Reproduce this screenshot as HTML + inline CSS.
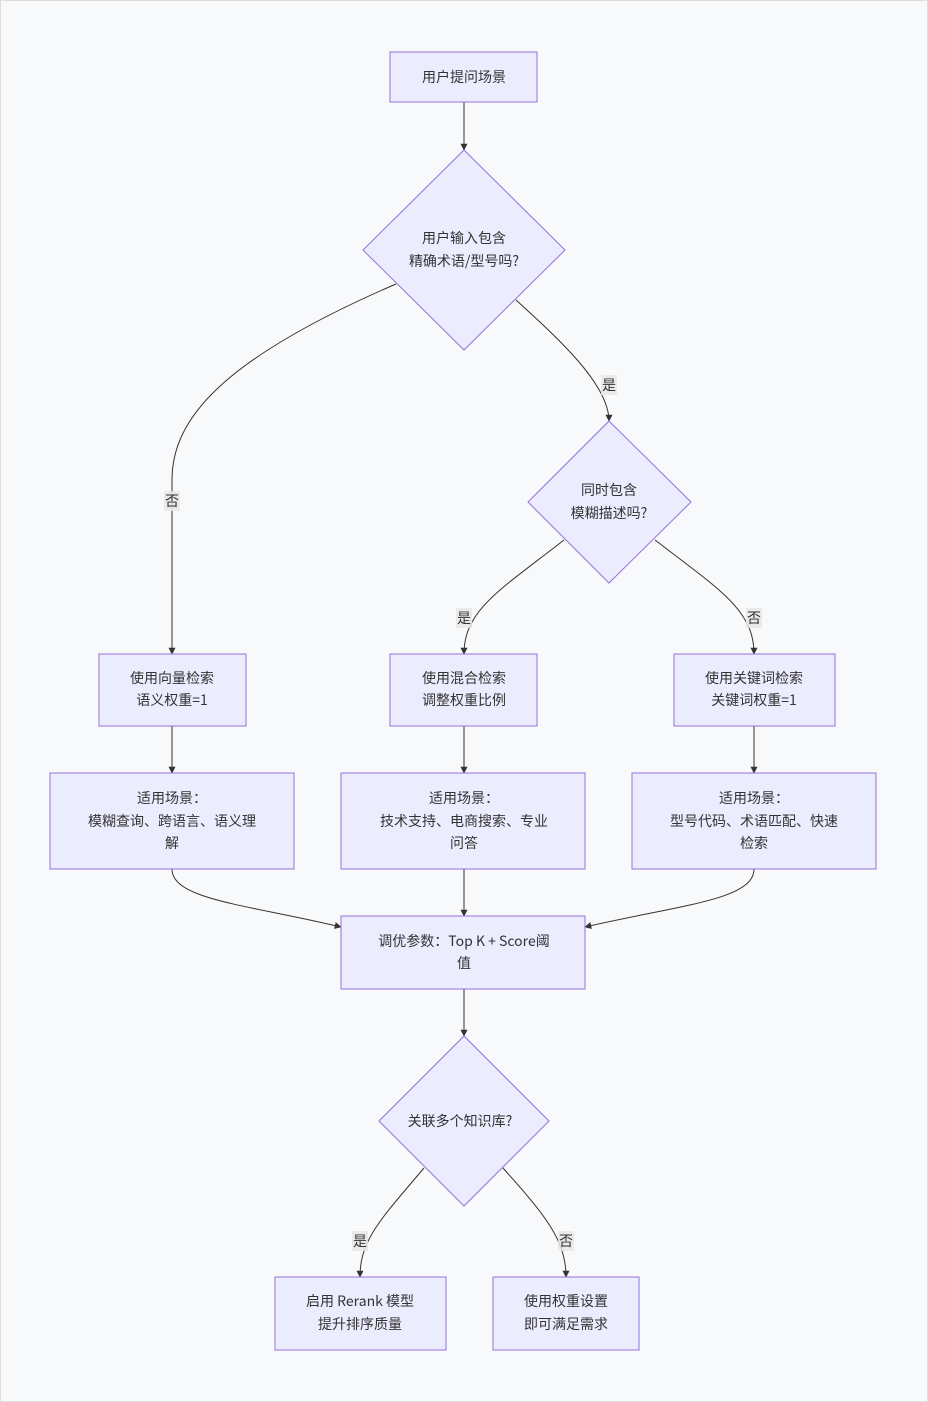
<!DOCTYPE html>
<html><head><meta charset="utf-8"><style>
html,body{margin:0;padding:0;background:#f8f9fb;}
svg{display:block;}
text{font-family:"Noto Sans CJK SC","Liberation Sans",sans-serif;font-size:14px;fill:#333;text-anchor:middle;}
.n{fill:#ECECFF;stroke:#9370DB;stroke-width:1;}
.e{fill:none;stroke:#333;stroke-width:1;}
.lb{fill:rgba(232,232,232,0.85);}
</style></head><body>
<svg width="928" height="1402" viewBox="0 0 928 1402">
<defs><marker id="a" viewBox="0 0 10 10" refX="9" refY="5" markerWidth="7" markerHeight="7" orient="auto"><path d="M0,0L10,5L0,10z" fill="#333"/></marker></defs>
<rect x="0.5" y="0.5" width="927" height="1401" fill="#f8f9fb" stroke="#ddd"/>
<path class="e" marker-end="url(#a)" d="M464,102 L464,150"/>
<path class="e" marker-end="url(#a)" d="M396,284 C220,360 172,420 172,480 L172,654"/>
<path class="e" marker-end="url(#a)" d="M516,300 C560,340 609,385 609,421"/>
<path class="e" marker-end="url(#a)" d="M564,540 C500,590 464,610 464,654"/>
<path class="e" marker-end="url(#a)" d="M655,540 C720,590 754,610 754,654"/>
<path class="e" marker-end="url(#a)" d="M172,726 L172,773"/>
<path class="e" marker-end="url(#a)" d="M464,726 L464,773"/>
<path class="e" marker-end="url(#a)" d="M754,726 L754,773"/>
<path class="e" marker-end="url(#a)" d="M172,869 C172,900 250,905 341,927"/>
<path class="e" marker-end="url(#a)" d="M464,869 L464,916"/>
<path class="e" marker-end="url(#a)" d="M754,869 C754,900 680,905 585,927"/>
<path class="e" marker-end="url(#a)" d="M464,989 L464,1036"/>
<path class="e" marker-end="url(#a)" d="M424,1168 C380,1220 360,1240 360,1277"/>
<path class="e" marker-end="url(#a)" d="M503,1168 C545,1215 566,1240 566,1277"/>
<rect class="lb" x="164" y="491" width="16" height="20"/><text x="172" y="506">否</text>
<rect class="lb" x="601" y="375" width="16" height="20"/><text x="609" y="390">是</text>
<rect class="lb" x="456" y="608" width="16" height="20"/><text x="464" y="623">是</text>
<rect class="lb" x="746" y="608" width="16" height="20"/><text x="754" y="623">否</text>
<rect class="lb" x="352" y="1231" width="16" height="20"/><text x="360" y="1246">是</text>
<rect class="lb" x="558" y="1231" width="16" height="20"/><text x="566" y="1246">否</text>
<rect class="n" x="390" y="52" width="147" height="50"/><text x="464" y="82">用户提问场景</text>
<polygon class="n" points="464,150 565,250 464,350 363,250"/>
<text x="464" y="243">用户输入包含</text><text x="464" y="266">精确术语/型号吗?</text>
<polygon class="n" points="609,421 691,502 609,583 528,502"/>
<text x="609" y="495">同时包含</text><text x="609" y="518">模糊描述吗?</text>
<rect class="n" x="99" y="654" width="147" height="72"/><text x="172" y="683">使用向量检索</text><text x="172" y="705">语义权重=1</text>
<rect class="n" x="390" y="654" width="147" height="72"/><text x="464" y="683">使用混合检索</text><text x="464" y="705">调整权重比例</text>
<rect class="n" x="674" y="654" width="161" height="72"/><text x="754" y="683">使用关键词检索</text><text x="754" y="705">关键词权重=1</text>
<rect class="n" x="50" y="773" width="244" height="96"/><text x="172" y="803">适用场景：</text><text x="172" y="826">模糊查询、跨语言、语义理</text><text x="172" y="848">解</text>
<rect class="n" x="341" y="773" width="244" height="96"/><text x="464" y="803">适用场景：</text><text x="464" y="826">技术支持、电商搜索、专业</text><text x="464" y="848">问答</text>
<rect class="n" x="632" y="773" width="244" height="96"/><text x="754" y="803">适用场景：</text><text x="754" y="826">型号代码、术语匹配、快速</text><text x="754" y="848">检索</text>
<rect class="n" x="341" y="916" width="244" height="73"/><text x="464" y="946">调优参数：Top K + Score阈</text><text x="464" y="968">值</text>
<polygon class="n" points="464,1036 549,1121 464,1206 379,1121"/>
<text x="460" y="1126">关联多个知识库?</text>
<rect class="n" x="275" y="1277" width="171" height="73"/><text x="360" y="1306">启用 Rerank 模型</text><text x="360" y="1329">提升排序质量</text>
<rect class="n" x="493" y="1277" width="146" height="73"/><text x="566" y="1306">使用权重设置</text><text x="566" y="1329">即可满足需求</text>
</svg>
</body></html>
